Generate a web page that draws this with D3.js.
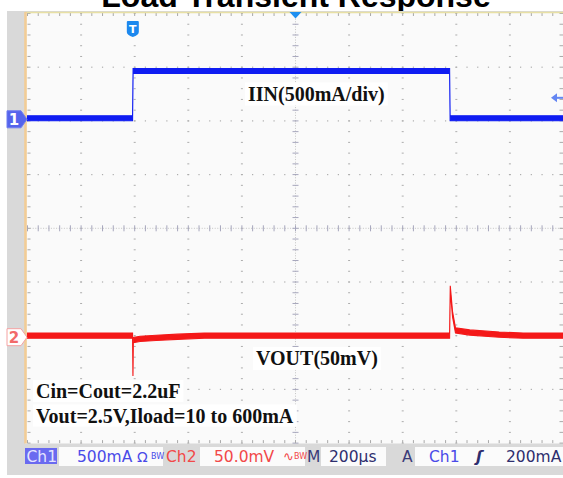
<!DOCTYPE html>
<html>
<head>
<meta charset="utf-8">
<script src="https://d3js.org/d3.v7.min.js"></script>
<style>
  body { margin: 0; background: #fff; }
  svg { display: block; }
</style>
</head>
<body>
<svg id="scope" width="563" height="478"></svg>
<script>
// scope capture, 200us/div, 10 x 8 divisions
var chartTitle = "Load Transient Response";
var timeSpan = [0, 2000];                 // us across the screen
var ch1Time = [0, 392, 394, 1575, 1577, 2000];
var ch1mA   = [10, 10, 450, 450, 10, 10];
var ch2Time = [0, 392, 393.5, 395, 420, 480, 560, 660, 1575, 1577.5, 1586, 1597, 1650, 1760, 1850, 2000];
var ch2mV   = [0, 0, -35, -4, -3, -2, -1, 0, 0, 44, 20, 5, 3, 1, 0, 0];
var ch1PerDiv = 500, ch2PerDiv = 50;      // mA/div, mV/div
var ch1Pos = 2.03, ch2Pos = -2.0;         // div from centre
var trigTime = 393, trigLevel = 200;      // us, mA
var notes = ["IIN(500mA/div)", "VOUT(50mV)", "Cin=Cout=2.2uF", "Vout=2.5V,Iload=10 to 600mA"];
var statusText = ["Ch1", "500mA", "Ch2", "50.0mV", "M", "200\u03bcs", "A", "Ch1", "200mA"];

var svg = d3.select("#scope");
var L = 27.5, R = 563.5, T = 13.5, B = 443.1;

var x = d3.scaleLinear().domain(timeSpan).range([L, R]);
var xDiv = d3.scaleLinear().domain([0, 10]).range([L, R]);
var gridY = d3.scaleLinear().domain([-4, 4]).range([B, T]);
var y1 = function (mA) { return gridY(ch1Pos + mA / ch1PerDiv); };
var y2 = function (mV) { return gridY(ch2Pos + mV / ch2PerDiv); };

// title (cut off by the screen panel)
svg.append("text").attr("x", 296).attr("y", 7).attr("text-anchor", "middle")
    .attr("font-family", "Liberation Sans, Arial, sans-serif").attr("font-weight", "bold")
    .attr("font-size", 32).attr("fill", "#000").text(chartTitle);

svg.append("rect").attr("x", 7).attr("y", 11).attr("width", 556).attr("height", 464).attr("fill", "#d9d9d9");
svg.append("rect").attr("x", 25).attr("y", 12).attr("width", 540).attr("height", 431.5).attr("fill", "#fafafa");

// graticule
var minorY = d3.range(0, 41).map(function (k) { return gridY(-4 + k / 5); });
var minorX = d3.range(0, 51).map(function (k) { return xDiv(k / 5); });
var grat = svg.append("g");

[1, 2, 3, 4, 6, 7, 8, 9].forEach(function (i) {
    grat.selectAll(null).data(minorY).enter().append("rect")
        .attr("x", xDiv(i) - 1).attr("y", function (d) { return d - 0.5; })
        .attr("width", 2).attr("height", 1).attr("fill", "#adadad");
});
[-3, -2, -1, 1, 2, 3].forEach(function (j) {
    grat.selectAll(null).data(minorX).enter().append("rect")
        .attr("x", function (d) { return d - 0.6; }).attr("y", gridY(j) - 0.6)
        .attr("width", 1.2).attr("height", 1.2).attr("fill", "#adadad");
});

// centre cross
var cx = xDiv(5), cy = gridY(0);
grat.append("line").attr("x1", cx).attr("x2", cx).attr("y1", T).attr("y2", B)
    .attr("stroke", "#c4c4c4").attr("stroke-dasharray", "1,1.6");
grat.append("line").attr("x1", L).attr("x2", R).attr("y1", cy).attr("y2", cy)
    .attr("stroke", "#c4c4c4").attr("stroke-dasharray", "1,1.6");
grat.selectAll(null).data(minorY).enter().append("line")
    .attr("x1", cx - 3).attr("x2", cx + 3).attr("y1", function (d) { return d; }).attr("y2", function (d) { return d; })
    .attr("stroke", "#a6a6bc");
grat.selectAll(null).data(minorX).enter().append("line")
    .attr("y1", cy - 3).attr("y2", cy + 3).attr("x1", function (d) { return d; }).attr("x2", function (d) { return d; })
    .attr("stroke", "#a6a6bc");

// edge ticks
grat.selectAll(null).data(minorX).enter().append("line")
    .attr("x1", function (d) { return d; }).attr("x2", function (d) { return d; })
    .attr("y1", T - 1).attr("y2", T + 2.5).attr("stroke", "#a8a8a8");
grat.selectAll(null).data(minorX).enter().append("line")
    .attr("x1", function (d) { return d; }).attr("x2", function (d) { return d; })
    .attr("y1", B - 3).attr("y2", B).attr("stroke", "#a8a8a8");
grat.selectAll(null).data(minorY).enter().append("line")
    .attr("x1", L).attr("x2", L + 3).attr("y1", function (d) { return d; }).attr("y2", function (d) { return d; })
    .attr("stroke", "#a8a8a8");
grat.selectAll(null).data(minorY).enter().append("line")
    .attr("x1", R - 4).attr("x2", R).attr("y1", function (d) { return d; }).attr("y2", function (d) { return d; })
    .attr("stroke", "#a8a8a8");

// screen border
svg.append("line").attr("x1", 25).attr("x2", 563).attr("y1", 12.5).attr("y2", 12.5)
    .attr("stroke", "#e8e0a4").attr("stroke-width", 1.5);
svg.append("rect").attr("x", 24.2).attr("y", 12).attr("width", 2.6).attr("height", 431.5).attr("fill", "#f2cc96");

// annotations with white boxes
function note(text, tx, ty) {
    var g = svg.append("g");
    var t = g.append("text").attr("x", tx).attr("y", ty)
        .attr("font-family", "Liberation Serif, Times New Roman, serif").attr("font-weight", "bold")
        .attr("font-size", 20).attr("fill", "#111").text(text);
    var bb = t.node().getBBox();
    g.insert("rect", "text").attr("x", bb.x - 3).attr("y", bb.y).attr("width", bb.width + 6)
        .attr("height", bb.height).attr("fill", "#fff");
}
note(notes[0], 248, 100.5);
note(notes[1], 256, 365);
note(notes[2], 36, 398);
note(notes[3], 36, 422.5);

// traces, drawn as bands as thick as the scope's noise
function band(half) {
    return d3.area().x(function (d) { return x(d.t); })
        .y0(function (d) { return d.y - half; }).y1(function (d) { return d.y + half; });
}
var ch1 = ch1Time.map(function (t, i) { return { t: t, y: y1(ch1mA[i]) }; });
var ch2 = ch2Time.map(function (t, i) { return { t: t, y: y2(ch2mV[i]) }; });

svg.append("path").datum(ch1).attr("d", band(2.5)).attr("fill", "#0f1cf2")
    .attr("stroke", "#0f1cf2").attr("stroke-width", 1.1);
svg.append("path").datum(ch2).attr("d", band(2.6)).attr("fill", "#f41818")
    .attr("stroke", "#f41818").attr("stroke-width", 1.1);

// channel markers
function tag(cyv, fill, stroke, txtFill, label) {
    svg.append("path")
        .attr("d", "M7," + (cyv - 8.5) + "L21," + (cyv - 8.5) + "L27," + cyv + "L21," + (cyv + 8.5) + "L7," + (cyv + 8.5) + "Z")
        .attr("fill", fill).attr("stroke", stroke).attr("stroke-width", 1);
    svg.append("text").attr("x", 14).attr("y", cyv + 5.5).attr("text-anchor", "middle")
        .attr("font-family", "DejaVu Sans, sans-serif").attr("font-weight", "bold").attr("font-size", 15)
        .attr("fill", txtFill).text(label);
}
tag(gridY(ch1Pos), "#5564ec", "#6f7cf0", "#fff", "1");
tag(gridY(ch2Pos) + 1.5, "#fff", "#f4a2a2", "#f26a6a", "2");

// trigger level arrow (right edge)
var ty = y1(trigLevel);
svg.append("path").attr("d", "M551," + ty + "L557," + (ty - 4.5) + "L557," + (ty + 4.5) + "Z").attr("fill", "#6486f2");
svg.append("rect").attr("x", 556).attr("y", ty - 1).attr("width", 7).attr("height", 2).attr("fill", "#6486f2");

// horizontal position marker (top centre)
svg.append("path").attr("d", "M" + (cx - 6) + ",12L" + (cx + 6) + ",12L" + cx + ",18.5Z").attr("fill", "#1e8ff0");

// trigger time marker
var tx = x(trigTime);
svg.append("path")
    .attr("d", "M" + (tx - 6) + ",22Q" + (tx - 6) + ",21 " + (tx - 5) + ",21L" + (tx + 5) + ",21Q" + (tx + 6) + ",21 " + (tx + 6) + ",22L" + (tx + 6) + ",32Q" + (tx + 6) + ",35 " + tx + ",37Q" + (tx - 6) + ",35 " + (tx - 6) + ",32Z")
    .attr("fill", "#1c88ee");
svg.append("text").attr("x", tx).attr("y", 33).attr("text-anchor", "middle")
    .attr("font-family", "DejaVu Sans, sans-serif").attr("font-weight", "bold").attr("font-size", 11)
    .attr("fill", "#fff").text("T");

// status bar
var sb = svg.append("g").attr("font-family", "DejaVu Sans, sans-serif").attr("font-size", 15.5);
sb.append("rect").attr("x", 25).attr("y", 448).attr("width", 32).attr("height", 16).attr("fill", "#6a6af0");
[[59, 104], [200, 105], [321, 65], [415, 150]].forEach(function (b) {
    sb.append("rect").attr("x", b[0]).attr("y", 447).attr("width", b[1]).attr("height", 19).attr("fill", "#fbfbfb");
});
var sx = [26.5, 77, 166, 214, 307, 329, 402, 429, 506];
var sc = ["#e4e4ff", "#4a4ae8", "#f24848", "#f24848", "#3a3a78", "#2e2e6e", "#3a3a78", "#4a4ae8", "#2e2e6e"];
sb.selectAll(null).data(statusText).enter().append("text")
    .attr("x", function (d, i) { return sx[i]; }).attr("y", 462)
    .attr("fill", function (d, i) { return sc[i]; }).text(function (d) { return d; });
sb.append("text").attr("x", 137).attr("y", 462).attr("fill", "#4a4ae8").attr("font-size", 14).text("\u03a9");
sb.append("text").attr("x", 283).attr("y", 461).attr("fill", "#f24848").attr("font-size", 13).text("\u223f");
sb.append("text").attr("x", 151).attr("y", 459).attr("fill", "#4a4ae8").attr("font-size", 8).text("BW");
sb.append("text").attr("x", 294).attr("y", 459).attr("fill", "#f24848").attr("font-size", 8).text("BW");
sb.append("text").attr("x", 476).attr("y", 462).attr("fill", "#2e2e6e").attr("font-style", "italic").attr("font-weight", "bold").text("\u0283");
</script>
</body>
</html>
